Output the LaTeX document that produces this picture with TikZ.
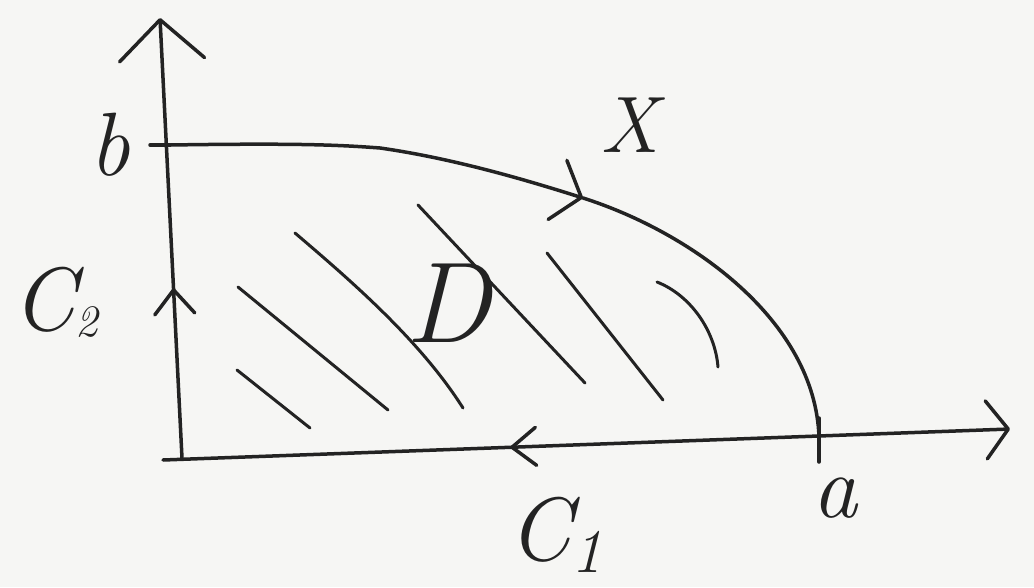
\documentclass[tikz,border=0pt]{standalone}
\usepackage{fontspec}
\usetikzlibrary{arrows.meta, decorations.markings}
\definecolor{ink}{RGB}{35,35,35}
\definecolor{paper}{RGB}{246,246,244}
\tikzset{
  pen/.style={draw=ink, line width=3.5pt, line cap=round, line join=round},
  hatch/.style={draw=ink, line width=3pt, line cap=round},
  lbl/.style={text=ink, inner sep=0pt, font=\fontsize{#1}{#1}\selectfont\itshape},
  lbl/.default=90,
  midbarb/.style={postaction={decorate, decoration={markings,
      mark=at position #1 with {\arrow{Straight Barb[round,length=24pt,width=40pt,line width=3.5pt]}}}}},
  midbarbback/.style={postaction={decorate, decoration={markings,
      mark=at position #1 with {\arrowreversed{Straight Barb[round,length=24pt,width=38pt,line width=3.5pt]}}}}}
}

\begin{document}
\begin{tikzpicture}[x=1pt, y=-1pt]
  \fill[paper] (0,0) rectangle (1034,587);
  \useasboundingbox (0,0) rectangle (1034,587);

  % axes
  \coordinate (O)  at (182,458);
  \coordinate (yT) at (160,18);
  \coordinate (xL) at (163,460);
  \coordinate (xR) at (1010,429);
  \draw[pen, midbarb=0.386, -{Straight Barb[round,length=40pt,width=85pt]}] (O) -- (yT);
  \draw[pen, midbarbback=0.41, -{Straight Barb[round,length=22pt,width=58pt]}] (xL) -- (xR);

  % boundary curve X from b to a
  \coordinate (bp) at (170,145);
  \coordinate (xm) at (583,198);
  \coordinate (ap) at (819,437);
  \draw[pen] ([xshift=-20pt]bp) -- (bp);
  \draw[pen, -{Straight Barb[round,length=25pt,width=62pt]}] (bp)
    .. controls (300,143) and (340,145) .. (380,148)
    .. controls (450,158) and (520,178) .. (xm);
  \draw[pen] (xm) .. controls (690,232) and (815,320) .. (ap);
  \draw[pen] ([yshift=19pt]ap) -- ([yshift=-25pt]ap);

  % hatching of D
  \draw[hatch] (237,370) -- (310,428);
  \draw[hatch] (238,287) -- (388,410);
  \draw[hatch] (295,233) .. controls (350,280) and (420,340) .. (463,408);
  \draw[hatch] (418,205) -- (585,383);
  \draw[hatch] (547,253) -- (663,400);
  \draw[hatch] (657,282) .. controls (690,295) and (715,330) .. (718,367);

  % labels
  \node[lbl, anchor=base] (lb) at (110,175) {b};
  \node[lbl=80, anchor=base] (lx) at (630,152) {X};
  \node[lbl=115, anchor=base] (ld) at (448,342) {D};
  \node[lbl, anchor=base west] (lc2) at (12,330) {C\raisebox{-6pt}{\fontsize{45}{45}\selectfont 2}};
  \node[lbl, anchor=base] (la) at (835,517) {a};
  \node[lbl, anchor=base west] (lc1) at (508,560) {C\raisebox{-12pt}{\fontsize{62}{62}\selectfont 1}};
\end{tikzpicture}
\end{document}
